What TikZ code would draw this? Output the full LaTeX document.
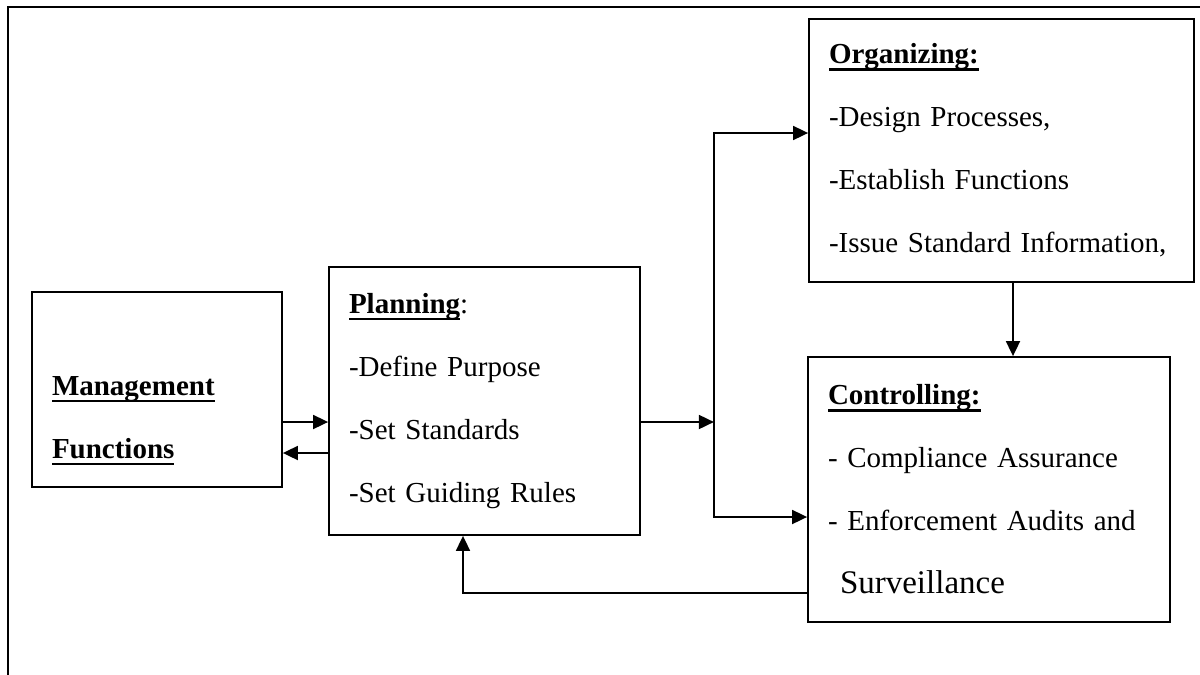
\documentclass[tikz,border=0pt]{standalone}
\usepackage{fontspec}
\setmainfont{Liberation Serif}
\usetikzlibrary{arrows.meta}

% titol en negreta i subratllat
\newcommand{\titol}[1]{\leavevmode\sbox0{\textbf{#1}}\rlap{\rule[-3.4pt]{\wd0}{1.3pt}}\usebox0}

\begin{document}
\begin{tikzpicture}[
    x=0.5pt,
    y=-0.5pt,
    >={Triangle[length=7.5pt,width=7pt]},
    line width=0.9pt,
    caixa/.style={
        draw,
        line width=0.9pt,
        align=left,
        inner xsep=10pt,
        inner ysep=0pt,
        font=\fontsize{14.5}{31.5}\selectfont
    }
]

    \useasboundingbox (0,0) rectangle (1200,675);

    % Marc
    \draw[line width=1pt] (8,675) -- (8,7) -- (1200,7);

    % Funcions
    \node[caixa, text width=105pt, minimum height=97.5pt] (mgmt) at (157,389.5)
        {\vphantom{M}\\ \titol{Management}\\ \titol{Functions}};

    % Planificacio
    \node[caixa, text width=135.5pt, minimum height=134pt] (plan) at (484.5,401)
        {\titol{Planning}:\\ -Define Purpose\\ -Set Standards\\ -Set Guiding Rules};

    % Organitzacio
    \node[caixa, text width=172.5pt, minimum height=131.5pt] (org) at (1001.5,150.5)
        {\titol{Organizing:}\\ -Design Processes,\\ -Establish Functions\\ -Issue Standard Information,};

    % Control
    \node[caixa, text width=161pt, minimum height=132.5pt] (ctrl) at (989,489.5)
        {\titol{Controlling:}\\ - Compliance Assurance\\ - Enforcement Audits and\\
         \hspace*{6pt}{\fontsize{16.5}{31.5}\selectfont Surveillance}};

    % Fletxes entre funcions i planificacio
    \coordinate (mp) at ([yshift=-16.25pt]mgmt.east);
    \coordinate (pm) at ([yshift=-31.75pt]mgmt.east);
    \draw[->] (mp) -- (mp -| plan.west);
    \draw[->] (pm -| plan.west) -- (pm);

    % Sortida de la planificacio
    \coordinate (plansortida) at ([yshift=-10.5pt]plan.east);
    \coordinate (nus) at ([xshift=36.5pt]plansortida);
    \draw[->] (plansortida) -- (nus);
    \draw[->] (nus) |- ([yshift=8.75pt]org.west);
    \draw[->] (nus) |- ([yshift=-13.75pt]ctrl.west);

    % Organitzacio a control
    \coordinate (orgbaix) at ([xshift=5.75pt]org.south);
    \draw[->] (orgbaix) -- (orgbaix |- ctrl.north);

    % Retorn cap a la planificacio
    \coordinate (retorn) at ([yshift=-51.75pt]ctrl.west);
    \draw[->] (retorn) -| ([xshift=-10.75pt]plan.south);

\end{tikzpicture}
\end{document}
